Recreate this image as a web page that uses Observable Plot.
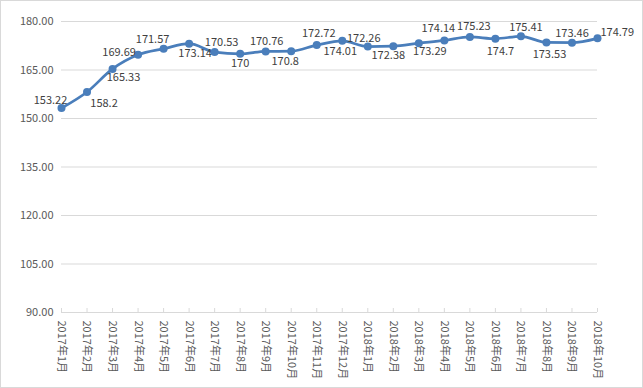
<!DOCTYPE html>
<html>
<head>
<meta charset="utf-8">
<script src="https://cdn.jsdelivr.net/npm/d3@7"></script>
<script src="https://cdn.jsdelivr.net/npm/@observablehq/plot@0.6"></script>
<style>
  html, body { margin: 0; padding: 0; background: #fff; }
  #chart { width: 641px; height: 386px; border: 1px solid #d9d9d9; overflow: hidden; }
  #chart svg { display: block; }
</style>
</head>
<body>
<div id="chart"></div>
<script>
const months = ["2017年1月","2017年2月","2017年3月","2017年4月","2017年5月","2017年6月","2017年7月","2017年8月","2017年9月","2017年10月","2017年11月","2017年12月","2018年1月","2018年2月","2018年3月","2018年4月","2018年5月","2018年6月","2018年7月","2018年8月","2018年9月","2018年10月"];
const values = [153.22, 158.2, 165.33, 169.69, 171.57, 173.14, 170.53, 170, 170.76, 170.8, 172.72, 174.01, 172.26, 172.38, 173.29, 174.14, 175.23, 174.7, 175.41, 173.53, 173.46, 174.79];
const labels = ["153.22","158.2","165.33","169.69","171.57","173.14","170.53","170","170.76","170.8","172.72","174.01","172.26","172.38","173.29","174.14","175.23","174.7","175.41","173.53","173.46","174.79"];
const yTicks = [90, 105, 120, 135, 150, 165, 180];

// label placement offsets (pixels) relative to each point
const labelDx = [-11, 17, 11, -19, -11, 6, 7, 0, 1, -6, 2, -2, -4, -5, 11, -6, 4, 5, 5, 3, 0, 3];
const labelDy = [-8, 11, 9, -2, -9, 10, -10, 10, -10, 10, -12, 11, -8, 9, 8, -12, -10, 13, -9, 12, -9, -6];

const data = months.map((m, i) => ({month: m, value: values[i], label: labels[i]}));
const font = "'Noto Sans CJK SC', 'Noto Sans', sans-serif";

const labelMarks = data.map((d, i) => Plot.text([d], {
  x: "month", y: "value", text: "label",
  dx: labelDx[i], dy: labelDy[i],
  textAnchor: i === data.length - 1 ? "start" : "middle",
  fill: "#404040", fontSize: 11
}));

const chart = Plot.plot({
  width: 641,
  height: 386,
  marginLeft: 60,
  marginRight: 45,
  marginTop: 20,
  marginBottom: 75,
  style: {fontFamily: font, background: "#fff", overflow: "visible"},
  x: {type: "point", domain: months, padding: 0, round: false, label: null},
  y: {domain: [90, 180], label: null},
  marks: [
    Plot.gridY(yTicks, {stroke: "#d9d9d9", strokeOpacity: 1}),
    Plot.ruleY([90], {stroke: "#d9d9d9", strokeWidth: 1}),
    Plot.tickX(months, {x: d => d, stroke: "#d9d9d9", insetTop: 287}),
    Plot.axisY(yTicks, {tickSize: 0, tickPadding: 8, tickFormat: d => d.toFixed(2), fontSize: 11, color: "#595959"}),
    Plot.axisX(months, {tickSize: 0, tickRotate: 90, tickPadding: 8, fontSize: 11, color: "#595959"}),
    Plot.line(data, {x: "month", y: "value", stroke: "#4a7ebb", strokeWidth: 2.75, curve: "monotone-x"}),
    Plot.dot(data, {x: "month", y: "value", fill: "#4a7ebb", r: 4}),
    ...labelMarks
  ]
});
document.getElementById("chart").appendChild(chart);
</script>
</body>
</html>
